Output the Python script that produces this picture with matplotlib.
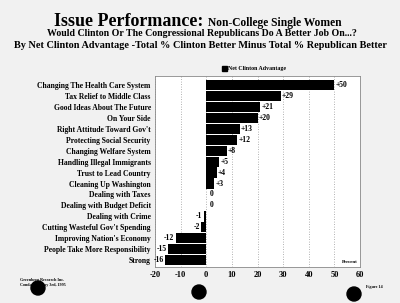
import matplotlib
matplotlib.use("Agg")
import matplotlib.pyplot as plt
from matplotlib.patches import Ellipse, Rectangle

categories = ["Changing The Health Care System", "Tax Relief to Middle Class",
              "Good Ideas About The Future", "On Your Side",
              "Right Attitude Toward Gov't", "Protecting Social Security",
              "Changing Welfare System", "Handling Illegal Immigrants",
              "Trust to Lead Country", "Cleaning Up Washington",
              "Dealing with Taxes", "Dealing with Budget Deficit",
              "Dealing with Crime", "Cutting Wasteful Gov't Spending",
              "Improving Nation's Economy", "People Take More Responsibility",
              "Strong"]
values = [50, 29, 21, 20, 13, 12, 8, 5, 4, 3, 0, 0, -1, -2, -12, -15, -16]
xticks = [-20, -10, 0, 10, 20, 30, 40, 50, 60]

serif = "Liberation Serif"
W, H = 400, 303
fig = plt.figure(figsize=(4, 3.03), dpi=100)
fig.patch.set_facecolor("#f1f1f1")

ax = fig.add_axes([155 / W, 1 - 267 / H, 205 / W, (267 - 76) / H])
ax.set_facecolor("white")
ypos = list(range(len(categories)))
ax.barh(ypos, values, height=0.95, color="black", zorder=3)
ax.set_xlim(-20, 60)
ax.set_ylim(len(categories) - 0.36, -0.85)
ax.set_xticks(xticks)
ax.set_xticklabels([str(t) for t in xticks], fontfamily=serif, fontweight="bold", fontsize=6)
ax.set_yticks(ypos)
ax.set_yticklabels(categories, fontfamily=serif, fontweight="bold", fontsize=5.5)
ax.tick_params(length=0, pad=3)
ax.grid(axis="x", linestyle=(0, (1, 2)), color="#999999", linewidth=0.6, zorder=0)
for s in ax.spines.values():
    s.set_color("#888888")
    s.set_linewidth(0.6)

for y, v in zip(ypos, values):
    if v > 0:
        ax.text(v + 0.5, y, f"+{v}", va="center", ha="left", fontfamily=serif,
                fontweight="bold", fontsize=5.5)
    elif v == 0:
        ax.text(v + 1.2, y, f"{v}", va="center", ha="left", fontfamily=serif,
                fontweight="bold", fontsize=5.5)
    else:
        ax.text(v - 0.5, y, f"{v}", va="center", ha="right", fontfamily=serif,
                fontweight="bold", fontsize=5.5)

ax.text(59, len(categories) - 0.6, "Percent", ha="right", va="bottom",
        fontfamily=serif, fontweight="bold", fontsize=3.5)

fig.text(0.52, 1 - 22 / H, "Issue Performance: ", ha="right", va="center",
         fontfamily=serif, fontweight="bold", fontsize=13)
fig.text(0.52, 1 - 23 / H, "Non-College Single Women", ha="left", va="center",
         fontfamily=serif, fontweight="bold", fontsize=8.3)
fig.text(0.505, 1 - 34 / H, "Would Clinton Or The Congressional Republicans Do A Better Job On...?",
         ha="center", va="center", fontfamily=serif, fontweight="bold", fontsize=7.1)
fig.text(0.5, 1 - 45 / H, "By Net Clinton Advantage -Total % Clinton Better Minus Total % Republican Better",
         ha="center", va="center", fontfamily=serif, fontweight="bold", fontsize=7.4)

fig.patches.append(Rectangle((222 / W, 1 - 71 / H), 5 / W, 5 / H, transform=fig.transFigure,
                             color="black"))
fig.text(228 / W, 1 - 68.5 / H, "Net Clinton Advantage", ha="left", va="center",
         fontfamily=serif, fontweight="bold", fontsize=4.2)

fig.text(20 / W, 1 - 280 / H, "Greenberg Research Inc.", ha="left", va="center",
         fontfamily=serif, fontweight="bold", fontsize=3)
fig.text(20 / W, 1 - 285 / H, "Conducted May 3rd, 1995", ha="left", va="center",
         fontfamily=serif, fontweight="bold", fontsize=3)
fig.text(366 / W, 1 - 287 / H, "Figure 14", ha="left", va="center",
         fontfamily=serif, fontweight="bold", fontsize=3)

for cx, cy in [(38, 288), (199, 292), (354, 294)]:
    fig.patches.append(Ellipse((cx / W, 1 - cy / H), 14 / W, 14 / H,
                               transform=fig.transFigure, color="black"))

fig.savefig("out.png", dpi=100, facecolor=fig.get_facecolor())
